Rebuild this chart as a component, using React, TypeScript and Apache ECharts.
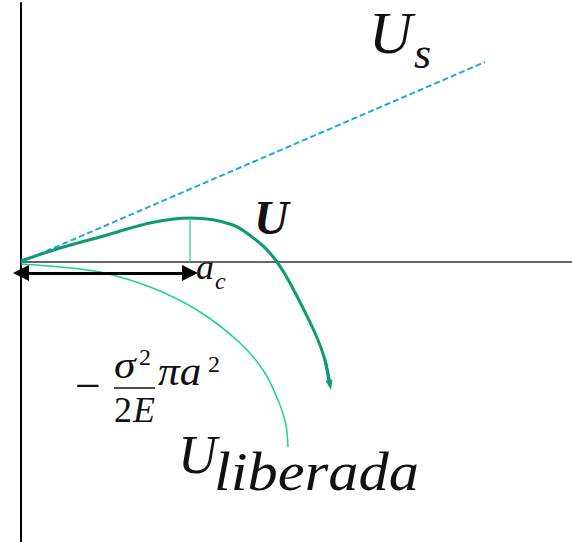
import React, { useEffect, useRef } from "react";
import * as echarts from "echarts";

// Energy of a Griffith crack versus crack length a (arbitrary units).
// x: crack length, y: energy (positive up).
const surfaceEnergy: number[][] = [
  [0, 0],
  [464, 200],
];

const totalEnergy: number[][] = [
  [0, 1],
  [39, 14],
  [79, 25],
  [129, 39],
  [169, 44],
  [212, 37],
  [241, 17],
  [256, 0],
  [269, -21],
  [294, -71],
  [304, -98],
  [309, -123],
];

const releasedEnergy: number[][] = [
  [0, -2],
  [39, -5],
  [79, -10],
  [129, -25],
  [176, -48],
  [219, -81],
  [244, -111],
  [259, -143],
  [265, -163],
  [267, -185],
];

// Critical crack length a_c (peak of U)
const criticalLength = 169;
const criticalEnergy = 44;
const arrowLevel = -11;

const BLUE = "#1ea6e6";
const DARK_GREEN = "#0e9a72";
const LIGHT_GREEN = "#1fcf9c";
const SERIF = "'Liberation Serif', 'DejaVu Serif', serif";

function label(
  text: string,
  x: number,
  y: number,
  size: number,
  opts: { italic?: boolean; bold?: boolean; scaleX?: number } = {}
) {
  const font = `${opts.italic === false ? "normal" : "italic"} ${
    opts.bold ? "bold" : "normal"
  } ${size}px ${SERIF}`;
  return {
    type: "text",
    x,
    y,
    scaleX: opts.scaleX ?? 1,
    silent: true,
    style: {
      text,
      x: 0,
      y: 0,
      font,
      fill: "#111",
      align: "left",
      verticalAlign: "middle",
      textAlign: "left",
      textVerticalAlign: "middle",
    },
  };
}

export default function App() {
  const ref = useRef<HTMLDivElement>(null);

  useEffect(() => {
    if (!ref.current) return;
    const chart = echarts.init(ref.current, null, { renderer: "svg" });
    chart.setOption({
      animation: false,
      backgroundColor: "#fff",
      grid: { left: 21, right: 0, top: 3, bottom: 0 },
      xAxis: {
        type: "value",
        min: 0,
        max: 551,
        axisLine: { show: true, onZero: true, lineStyle: { color: "#333", width: 1.5 } },
        axisTick: { show: false },
        axisLabel: { show: false },
        splitLine: { show: false },
      },
      yAxis: {
        type: "value",
        min: -280,
        max: 259,
        axisLine: { show: true, onZero: true, lineStyle: { color: "#000", width: 2 } },
        axisTick: { show: false },
        axisLabel: { show: false },
        splitLine: { show: false },
      },
      series: [
        {
          name: "Us",
          type: "line",
          data: surfaceEnergy,
          showSymbol: false,
          lineStyle: { color: BLUE, width: 2, type: [6, 3] },
        },
        {
          name: "Uliberada",
          type: "line",
          data: releasedEnergy,
          smooth: 0.3,
          showSymbol: false,
          lineStyle: { color: LIGHT_GREEN, width: 1.5 },
        },
        {
          name: "U",
          type: "line",
          data: totalEnergy,
          smooth: 0.3,
          showSymbol: false,
          lineStyle: { color: DARK_GREEN, width: 3 },
          markLine: {
            silent: true,
            symbol: ["none", "triangle"],
            symbolSize: [7, 10],
            label: { show: false },
            lineStyle: { color: DARK_GREEN, width: 3, type: "solid" },
            data: [
              [
                { coord: totalEnergy[totalEnergy.length - 2] },
                { coord: totalEnergy[totalEnergy.length - 1] },
              ],
            ],
          },
        },
        {
          name: "ac",
          type: "line",
          data: [
            [criticalLength, 0],
            [criticalLength, criticalEnergy],
          ],
          showSymbol: false,
          lineStyle: { color: LIGHT_GREEN, width: 1.2 },
          markLine: {
            silent: true,
            symbol: ["triangle", "triangle"],
            symbolSize: [16, 16],
            label: { show: false },
            lineStyle: { color: "#000", width: 3, type: "solid" },
            data: [
              [
                { coord: [0, arrowLevel] },
                { coord: [criticalLength, arrowLevel] },
              ],
            ],
          },
        },
      ],
      graphic: [
        // U_s
        label("U", 369, 33, 60),
        label("s", 414, 53, 44),
        // U
        label("U", 254, 217, 48, { bold: true }),
        // a_c
        label("a", 196, 267, 36),
        label("c", 215, 281, 24),
        // -σ²/(2E) πa²
        label("\u2212", 75, 385, 46, { italic: false }),
        label("σ", 114, 365, 38, { scaleX: 1.15 }),
        label("2", 139, 357, 24, { italic: false }),
        {
          type: "line",
          silent: true,
          shape: { x1: 114, y1: 388, x2: 155, y2: 388 },
          style: { stroke: "#111", lineWidth: 1.5 },
        },
        label("2", 114, 410, 36, { italic: false }),
        label("E", 133, 410, 36),
        label("πa", 158, 372, 40, { scaleX: 1.08 }),
        label("2", 208, 364, 24, { italic: false }),
        // U_liberada
        label("U", 178, 455, 54),
        label("liberada", 214, 472, 54, { scaleX: 1.12 }),
      ],
    });
    return () => chart.dispose();
  }, []);

  return (
    <div
      ref={ref}
      style={{ position: "fixed", left: 0, top: 0, width: 572, height: 542 }}
    />
  );
}
